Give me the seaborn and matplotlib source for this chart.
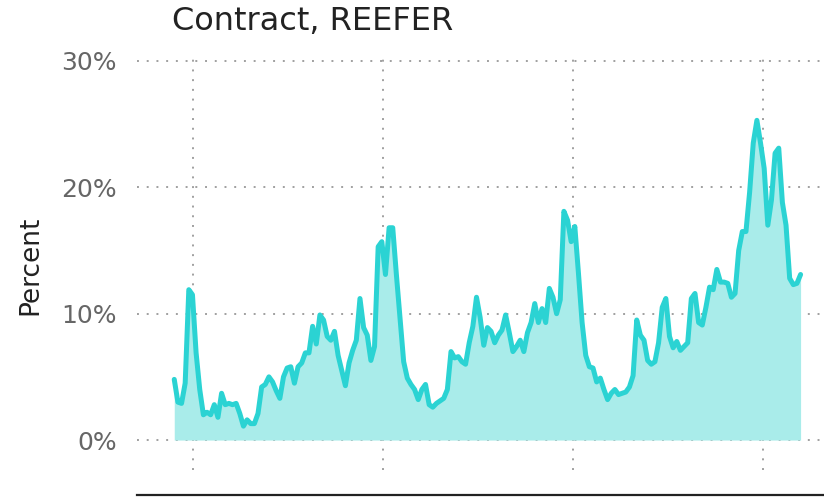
import matplotlib
matplotlib.use("Agg")
import matplotlib.pyplot as plt
import matplotlib.dates as mdates
from matplotlib.ticker import FuncFormatter
import pandas as pd
import seaborn as sns

title = "Contract, REEFER"
y_label = "Percent"
start_week = "2017-11-26"
y_ticks = [0, 10, 20, 30]

# weekly values (percent)
pct = [
    4.8, 3.0, 2.9, 4.5, 11.9, 11.5, 6.9, 4.0, 2.0, 2.2, 2.0, 2.8, 1.8, 3.7,
    2.8, 2.9, 2.8, 2.9, 2.1, 1.1, 1.6, 1.3, 1.3, 2.1, 4.2, 4.4, 5.0,
    4.6, 3.9, 3.3, 5.0, 5.7, 5.8, 4.5, 5.8, 6.1, 6.9, 6.9, 9.0, 7.6, 9.9,
    9.5, 8.2, 7.9, 8.6, 6.7, 5.5, 4.3, 6.1, 7.1, 7.9, 11.2, 8.9, 8.3, 6.3, 7.4,
    15.3, 15.7, 13.1, 16.8, 16.8, 13.1, 9.7, 6.2, 4.9, 4.4, 4.0, 3.2, 4.0,
    4.4, 2.8, 2.6, 2.9, 3.1, 3.3, 4.0, 7.0, 6.5, 6.6, 6.2, 6.0, 7.7, 9.0,
    11.3, 9.7, 7.5, 8.9, 8.6, 7.7, 8.3, 8.7, 9.9, 8.5, 7.0, 7.4, 7.9, 7.0,
    8.5, 9.3, 10.8, 9.3, 10.4, 9.3, 12.0, 11.3, 10.0, 11.1, 18.1, 17.4, 15.7, 16.9,
    13.2, 9.3, 6.7, 5.8, 5.7, 4.6, 4.9, 4.0, 3.2, 3.7, 4.0, 3.6, 3.7, 3.8,
    4.2, 5.1, 9.5, 8.3, 7.9, 6.3, 6.0, 6.2, 7.7, 10.5, 11.2, 8.2, 7.3, 7.8, 7.1,
    7.4, 7.7, 11.2, 11.6, 9.3, 9.1, 10.5, 12.1, 11.9, 13.5, 12.5, 12.5, 12.4,
    11.3, 11.6, 15.0, 16.5, 16.5, 19.6, 23.5, 25.3, 23.5, 21.5, 17.0, 19.0,
    22.7, 23.1, 18.8, 17.0, 12.8, 12.3, 12.4, 13.1,
]

df = pd.DataFrame({
    "week": pd.date_range(start_week, periods=len(pct), freq="7D"),
    "pct": pct,
})

sns.set_style("white")
plt.rcParams["font.family"] = ["DejaVu Sans"]

fig = plt.figure(figsize=(8.24, 5.01), dpi=100)
ax = fig.add_axes([137 / 824, 31 / 501, 1 - 137 / 824, 415 / 501])

line_c = "#2bd3d3"
fill_c = "#a9ecea"
ax.fill_between(df["week"], 0, df["pct"], color=fill_c, linewidth=0, zorder=1)
sns.lineplot(data=df, x="week", y="pct", ax=ax, color=line_c, linewidth=3.6,
             zorder=3)

x_left = pd.Timestamp("2018-01-01") - pd.Timedelta(days=107.6)
ax.set_xlim(x_left, x_left + pd.Timedelta(days=1320.6))
ax.set_ylim(-2.37, 30.47)

ax.set_yticks(y_ticks)
ax.yaxis.set_major_formatter(FuncFormatter(lambda v, _: f"{v:.0f}%"))
ax.xaxis.set_major_locator(mdates.YearLocator())
ax.tick_params(axis="y", length=0, pad=14.5, labelsize=18, labelcolor="#666666")
ax.tick_params(axis="x", length=0, labelbottom=False)

ax.grid(True, color="#a0a0a0", linestyle=(0, (1, 4)), linewidth=1.4)
ax.set_axisbelow(True)

for s in ["top", "right", "left"]:
    ax.spines[s].set_visible(False)
ax.spines["bottom"].set_position(("outward", 18))
ax.spines["bottom"].set_color("#222222")
ax.spines["bottom"].set_linewidth(1.6)

ax.set_xlabel("")
ax.set_ylabel(y_label, fontsize=19, color="#222222", va="center")
ax.yaxis.set_label_coords((30 - 137) / 687, (470 - 265) / 415)
fig.text(172 / 824, 1 - 21 / 501, title, fontsize=23, color="#222222",
         va="center", ha="left")

fig.savefig("out.png", dpi=100)
